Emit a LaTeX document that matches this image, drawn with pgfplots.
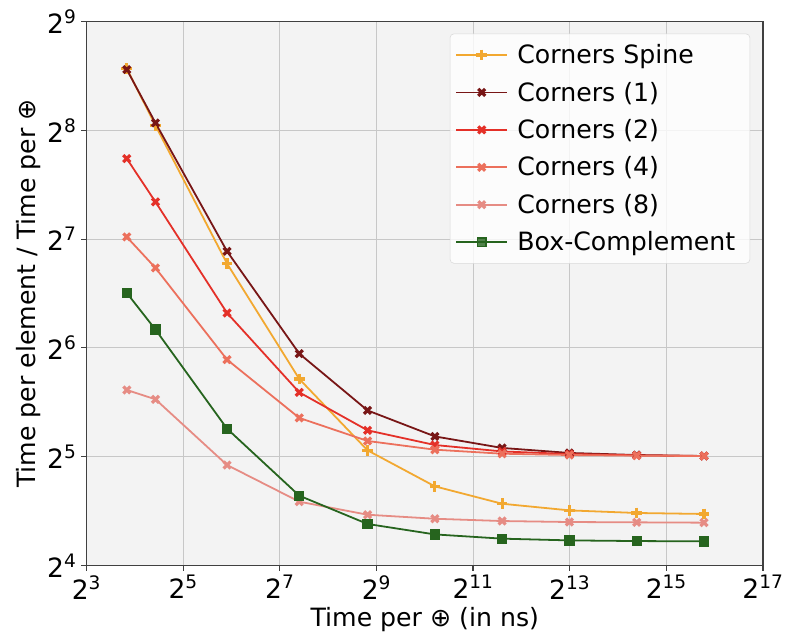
\documentclass[border=0pt]{standalone}
\usepackage{fontspec}
\setmainfont{DejaVu Sans}
\usepackage{pgfplots}
\pgfplotsset{compat=1.18}

\definecolor{spine}{RGB}{242,168,48}
\definecolor{cone}{RGB}{120,22,22}
\definecolor{ctwo}{RGB}{228,48,40}
\definecolor{cfour}{RGB}{236,112,92}
\definecolor{ceight}{RGB}{230,140,132}
\definecolor{boxc}{RGB}{38,100,30}
\definecolor{bgray}{RGB}{243,243,243}

% x and y hold log2 of the values
\begin{document}
\begin{tikzpicture}
\begin{axis}[
  scale only axis,
  width=510pt, height=410pt,
  xmin=3, xmax=17, ymin=4, ymax=9,
  xtick={3,5,...,17},
  xticklabels={2\textsuperscript{3},2\textsuperscript{5},2\textsuperscript{7},2\textsuperscript{9},2\textsuperscript{11},2\textsuperscript{13},2\textsuperscript{15},2\textsuperscript{17}},
  ytick={4,5,...,9},
  yticklabels={2\textsuperscript{4},2\textsuperscript{5},2\textsuperscript{6},2\textsuperscript{7},2\textsuperscript{8},2\textsuperscript{9}},
  tick label style={font=\fontsize{20}{22}\selectfont},
  label style={font=\fontsize{19}{22}\selectfont},
  xlabel={Time per ⊕ (in ns)},
  ylabel={Time per element / Time per ⊕},
  xlabel style={yshift=1pt},
  ylabel style={yshift=-2pt},
  axis background/.style={fill=bgray},
  grid=major,
  major grid style={color=black!22, line width=0.8pt},
  axis line style={color=black!75, line width=0.9pt},
  tick align=outside, major tick length=4pt,
  tick style={color=black!75, line width=0.9pt},
  xtick pos=bottom, ytick pos=left,
  every axis plot/.append style={line width=1.35pt},
  legend style={at={(0.981,0.978)}, anchor=north east,
    font=\fontsize{19}{22}\selectfont,
    fill=white, fill opacity=0.8, text opacity=1,
    draw=black!15, rounded corners=3pt,
    row sep=8.3pt, inner xsep=4pt, inner ysep=6pt,
    nodes={inner xsep=7pt}},
  legend cell align=left,
  legend image code/.code={
    \draw[#1] (0cm,0cm) -- (1.35cm,0cm);
    \draw[#1, only marks] plot coordinates {(0.675cm,0cm)};
  },
]
\addplot[spine, mark=+, mark size=4pt, mark options={line width=2.4pt}] coordinates {
  (3.833,8.568) (4.427,8.044) (5.908,6.775) (7.403,5.714) (8.816,5.058)
  (10.209,4.727) (11.601,4.567) (12.994,4.506) (14.386,4.482) (15.779,4.473)};
\addlegendentry{Corners Spine}
\addplot[cone, mark=x, mark size=3.7pt, mark options={line width=2.4pt}] coordinates {
  (3.833,8.559) (4.427,8.068) (5.908,6.888) (7.403,5.947) (8.816,5.425)
  (10.209,5.186) (11.601,5.080) (12.994,5.034) (14.386,5.015) (15.779,5.006)};
\addlegendentry{Corners (1)}
\addplot[ctwo, mark=x, mark size=3.7pt, mark options={line width=2.4pt}] coordinates {
  (3.833,7.740) (4.427,7.342) (5.908,6.321) (7.403,5.591) (8.816,5.242)
  (10.209,5.107) (11.601,5.048) (12.994,5.024) (14.386,5.012) (15.779,5.006)};
\addlegendentry{Corners (2)}
\addplot[cfour, mark=x, mark size=3.7pt, mark options={line width=2.4pt}] coordinates {
  (3.833,7.020) (4.427,6.735) (5.908,5.892) (7.403,5.356) (8.816,5.144)
  (10.209,5.064) (11.601,5.027) (12.994,5.015) (14.386,5.009) (15.779,5.006)};
\addlegendentry{Corners (4)}
\addplot[ceight, mark=x, mark size=3.7pt, mark options={line width=2.4pt}] coordinates {
  (3.833,5.613) (4.427,5.527) (5.908,4.923) (7.403,4.586) (8.816,4.466)
  (10.209,4.429) (11.601,4.408) (12.994,4.399) (14.386,4.396) (15.779,4.393)};
\addlegendentry{Corners (8)}
\addplot[boxc, mark=square*, mark size=3.2pt] coordinates {
  (3.833,6.505) (4.427,6.168) (5.908,5.257) (7.403,4.641) (8.816,4.381)
  (10.209,4.285) (11.601,4.246) (12.994,4.230) (14.386,4.224) (15.779,4.221)};
\addlegendentry{Box-Complement}
\end{axis}
\path ([xshift=-9pt]current bounding box.west);
\path ([yshift=4pt]current bounding box.north);
\end{tikzpicture}
\end{document}
